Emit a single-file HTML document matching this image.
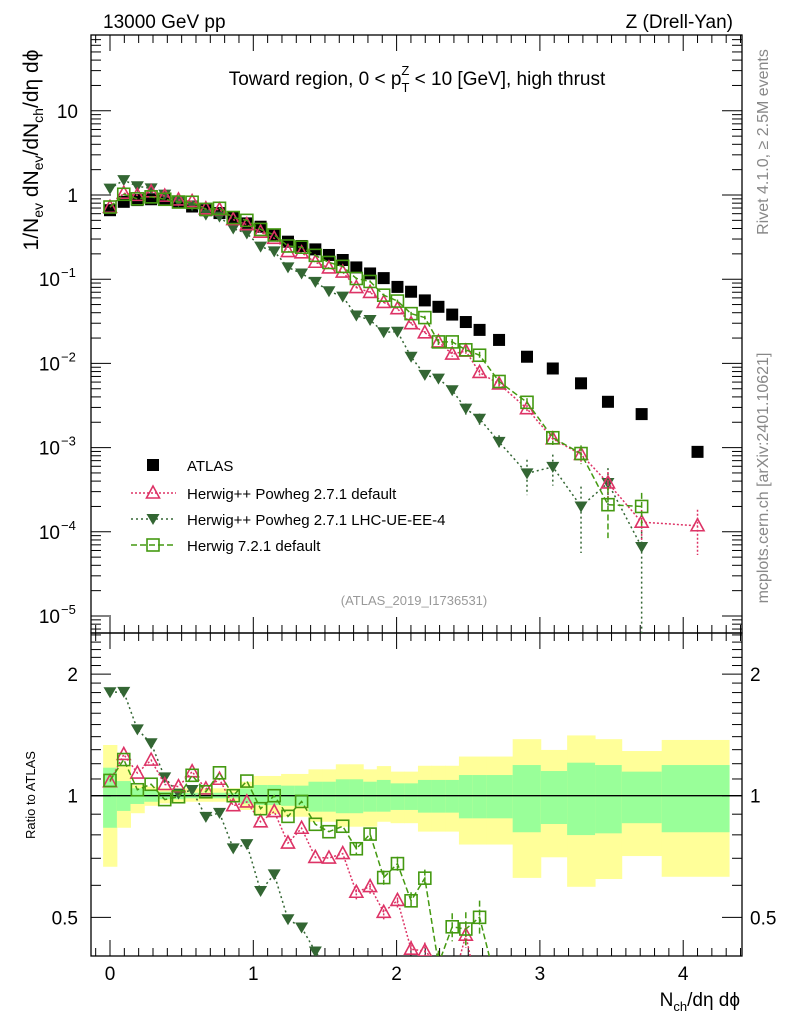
<!DOCTYPE html>
<html><head><meta charset="utf-8">
<style>
html,body{margin:0;padding:0;background:#fff;width:786px;height:1024px;overflow:hidden;}
svg{display:block;font-family:"Liberation Sans","DejaVu Sans",sans-serif;}
</style></head>
<body>
<svg id="chart" width="786" height="1024" viewBox="0 0 786 1024" xmlns="http://www.w3.org/2000/svg">
<text x="103" y="28" font-size="19">13000 GeV pp</text>
<text x="733" y="28" font-size="19" text-anchor="end">Z (Drell-Yan)</text>
<text x="417" y="85" font-size="19" text-anchor="middle">Toward region, 0 &lt; p<tspan font-size="13" dy="7">T</tspan><tspan font-size="13" dx="-8" dy="-17">Z</tspan><tspan dy="10"> &lt; 10 [GeV], high thrust</tspan></text>
<text x="414" y="605" font-size="13" fill="#999" text-anchor="middle">(ATLAS_2019_I1736531)</text>
<text transform="translate(768,142) rotate(-90)" font-size="16" fill="#888" text-anchor="middle">Rivet 4.1.0, ≥ 2.5M events</text>
<text transform="translate(768,478) rotate(-90)" font-size="16" fill="#888" text-anchor="middle">mcplots.cern.ch [arXiv:2401.10621]</text>
<text transform="translate(38,150) rotate(-90)" font-size="21" text-anchor="middle">1/N<tspan font-size="14" dy="5">ev</tspan><tspan dy="-5"> dN</tspan><tspan font-size="14" dy="5">ev</tspan><tspan dy="-5">/dN</tspan><tspan font-size="14" dy="5">ch</tspan><tspan dy="-5">/dη dϕ</tspan></text>
<text transform="translate(35,795) rotate(-90)" font-size="13" text-anchor="middle">Ratio to ATLAS</text>
<text x="740" y="1006" font-size="19" text-anchor="end">N<tspan font-size="13" dy="5">ch</tspan><tspan dy="-5">/dη dϕ</tspan></text>
<g id="bands"></g>
<g id="axes"></g>
<g id="marks"></g>
<g id="legend"></g>
</svg>
<script>
const xVals = [0,0.096,0.191,0.287,0.382,0.478,0.573,0.669,0.764,0.860,0.955,1.051,1.146,1.242,1.337,1.433,1.528,1.624,1.719,1.815,1.910,2.006,2.101,2.197,2.292,2.388,2.483,2.579,2.715,2.91,3.09,3.287,3.475,3.71,4.10];
const binEdges = [-0.048,0.048,0.143,0.239,0.334,0.430,0.525,0.621,0.716,0.812,0.907,1.003,1.098,1.194,1.289,1.385,1.480,1.576,1.671,1.767,1.862,1.958,2.053,2.149,2.244,2.340,2.435,2.531,2.626,2.81,3.006,3.19,3.385,3.571,3.85,4.32];
const atlas = [0.66,0.83,0.87,0.89,0.91,0.83,0.73,0.66,0.61,0.54,0.46,0.42,0.335,0.279,0.248,0.226,0.194,0.169,0.138,0.117,0.103,0.081,0.071,0.056,0.047,0.038,0.031,0.025,0.019,0.012,0.0087,0.0058,0.0035,0.0025,0.00089];
const pinkVals = [0.715,1.05,0.99,1.09,0.97,0.874,0.837,0.686,0.67,0.51,0.444,0.362,0.306,0.213,0.206,0.159,0.136,0.1215,0.0796,0.0697,0.053,0.0446,0.0296,0.0231,0.018,0.0129,0.014,0.0078,0.0057,0.0029,0.00127,0.00083,0.00038,0.00013,0.000118];
const pinkErr = [0,0,0,0,0,0,0,0,0,0,0,0,0,0,0,0,0,0,0.04,0.04,0.04,0.04,0.05,0.05,0.07,0.07,0.07,0.08,0.1,0.1,0.15,0.2,0.35,0.4,0.55];
const darkVals = [1.19,1.50,1.27,1.20,1.01,0.84,0.754,0.585,0.553,0.40,0.349,0.244,0.214,0.138,0.117,0.093,0.072,0.062,0.037,0.0328,0.0234,0.0238,0.012,0.0073,0.0066,0.0048,0.0029,0.0022,0.00117,0.000495,0.00059,0.0002,0.00038,0.000066,null];
const darkErr = [0,0,0,0,0,0,0,0,0,0,0,0,0,0,0,0,0.05,0.05,0.05,0.05,0.05,0.05,0.12,0.12,0.12,0.12,0.15,0.15,0.2,0.45,0.4,0.72,0.5,1.0,0];
const greenVals = [0.72,1.02,0.90,0.95,0.89,0.825,0.82,0.675,0.695,0.54,0.50,0.39,0.335,0.248,0.24,0.192,0.158,0.142,0.102,0.094,0.0646,0.055,0.039,0.035,0.018,0.018,0.0145,0.0125,0.0061,0.00345,0.00131,0.00085,0.00021,0.0002,null];
const greenErr = [0,0,0,0,0,0,0,0,0,0,0,0,0,0,0,0,0,0,0.03,0.03,0.04,0.04,0.05,0.05,0.08,0.08,0.1,0.1,0.1,0.12,0.18,0.25,0.6,0.45,0];
const yellowHi = [1.335,1.191,1.063,1.053,1.043,1.043,1.043,1.043,1.043,1.043,1.083,1.119,1.119,1.132,1.132,1.162,1.162,1.196,1.196,1.162,1.184,1.147,1.147,1.186,1.186,1.186,1.25,1.25,1.25,1.38,1.298,1.41,1.38,1.29,1.374];
const yellowLo = [0.667,0.833,0.905,0.944,0.957,0.957,0.966,0.966,0.966,0.966,0.922,0.901,0.901,0.887,0.887,0.862,0.862,0.838,0.838,0.838,0.862,0.855,0.855,0.815,0.815,0.815,0.757,0.757,0.757,0.626,0.704,0.595,0.622,0.709,0.630];
const greenHi = [1.173,1.087,1.043,1.033,1.023,1.023,1.017,1.017,1.017,1.017,1.043,1.063,1.063,1.059,1.059,1.083,1.083,1.098,1.098,1.083,1.094,1.073,1.073,1.094,1.094,1.094,1.125,1.125,1.125,1.191,1.151,1.207,1.191,1.147,1.191];
const greenLo = [0.833,0.917,0.954,0.966,0.980,0.980,0.985,0.985,0.985,0.985,0.957,0.948,0.948,0.944,0.944,0.913,0.913,0.905,0.905,0.913,0.913,0.922,0.922,0.908,0.908,0.908,0.879,0.879,0.879,0.812,0.851,0.799,0.807,0.855,0.812];
const mainTicks = ["10","1","10","10","10","10","10"];
const mainTickVals = [10,1,0.1,0.01,0.001,0.0001,0.00001];
const mainTickExp = ["","","−1","−2","−3","−4","−5"];
const xTickVals = [0,1,2,3,4];
const ratioTickVals = [2,1,0.5];

const NS="http://www.w3.org/2000/svg";
const L=91,R=742,MT=35,MB=633,RT=633,RB=956;
const X0=110,XS=143.3;
function xp(v){return X0+XS*v;}
function yMain(v){return 195-84.2*Math.log10(v);}
function yRat(v){return 795.7-404*Math.log10(v);}
function mk(tag,attrs,parent){const e=document.createElementNS(NS,tag);for(const k in attrs)e.setAttribute(k,attrs[k]);parent.appendChild(e);return e;}
const bandsG=document.getElementById('bands'),axesG=document.getElementById('axes'),marksG=document.getElementById('marks'),legG=document.getElementById('legend');

const defs=mk('defs',{},document.getElementById('chart'));
const c1=mk('clipPath',{id:'cm'},defs);mk('rect',{x:L,y:MT,width:R-L,height:MB-MT},c1);
const c2=mk('clipPath',{id:'cr'},defs);mk('rect',{x:L,y:RT,width:R-L,height:RB-RT},c2);
bandsG.setAttribute('clip-path','url(#cr)');

for(let i=0;i<atlas.length;i++){
  const x1=xp(binEdges[i]),x2=xp(binEdges[i+1]);
  const yb=mk('rect',{x:x1,y:yRat(yellowHi[i]),width:x2-x1+0.5,height:yRat(yellowLo[i])-yRat(yellowHi[i]),fill:'#ffff99'},bandsG);
  
  
  const gb=mk('rect',{x:x1,y:yRat(greenHi[i]),width:x2-x1+0.5,height:yRat(greenLo[i])-yRat(greenHi[i]),fill:'#99ff99'},bandsG);
  
  
}
mk('line',{x1:L,x2:R,y1:yRat(1),y2:yRat(1),stroke:'#000','stroke-width':1.3},bandsG);

mk('rect',{x:L,y:MT,width:R-L,height:MB-MT,fill:'none',stroke:'#000','stroke-width':1.3},axesG);
mk('rect',{x:L,y:RT,width:R-L,height:RB-RT,fill:'none',stroke:'#000','stroke-width':1.3},axesG);
function xTicks(top,bot){
  for(let t=-0.1;t<=4.41;t+=0.1){
    const v=Math.round(t*10)/10;const px=xp(v);if(px<L||px>R)continue;
    const major=Math.abs(v-Math.round(v))<1e-6;const len=major?16:8;
    mk('line',{x1:px,x2:px,y1:top,y2:top+len,stroke:'#000'},axesG);
    mk('line',{x1:px,x2:px,y1:bot,y2:bot-len,stroke:'#000'},axesG);
  }
}
xTicks(MT,MB);xTicks(RT,RB);
xTickVals.forEach(v=>{const t=mk('text',{x:xp(v),y:980,'font-size':19,'text-anchor':'middle'},axesG);t.textContent=v;

});
for(let e=-6;e<=1;e++){for(let m=1;m<10;m++){const v=m*Math.pow(10,e);const py=yMain(v);if(py<MT||py>MB)continue;
  const len=m===1?20:10;
  mk('line',{x1:L,x2:L+len,y1:py,y2:py,stroke:'#000'},axesG);
  mk('line',{x1:R,x2:R-len,y1:py,y2:py,stroke:'#000'},axesG);}}
mainTickVals.forEach((v,i)=>{
  const t=mk('text',{x:mainTickExp[i]?60:78,y:yMain(v)+7,'font-size':19,'text-anchor':'end'},axesG);
  t.textContent=mainTicks[i];
  
  
  if(mainTickExp[i]){const s=mk('text',{x:61,y:yMain(v)-2,'font-size':13},axesG);s.textContent=mainTickExp[i];
  
  }
});
[0.5,0.6,0.7,0.8,0.9,1,1.1,1.2,1.3,1.4,1.5,1.6,1.7,1.8,1.9,2,2.1,2.2,2.3,2.4,2.5].forEach(v=>{
  const py=yRat(v);if(py<RT||py>RB)return;const major=(v===0.5||v===1||v===2);const len=major?20:10;
  mk('line',{x1:L,x2:L+len,y1:py,y2:py,stroke:'#000'},axesG);
  mk('line',{x1:R,x2:R-len,y1:py,y2:py,stroke:'#000'},axesG);
});
ratioTickVals.forEach(v=>{
  const a=mk('text',{x:78,y:yRat(v)+7,'font-size':19,'text-anchor':'end'},axesG);a.textContent=v;
  
  
  const b=mk('text',{x:750,y:yRat(v)+7,'font-size':19},axesG);b.textContent=v;
  
  
});

function marker(g,type,x,y,col){
  if(type==='sq'){mk('rect',{x:x-6,y:y-6,width:12,height:12,fill:'#000'},g);}
  else if(type==='osq'){mk('rect',{x:x-6,y:y-6,width:12,height:12,fill:'none',stroke:col,'stroke-width':1.6},g);}
  else if(type==='otri'){mk('polygon',{points:`${x},${y-7} ${x-6.5},${y+5} ${x+6.5},${y+5}`,fill:'none',stroke:col,'stroke-width':1.6},g);}
  else if(type==='dtri'){mk('polygon',{points:`${x},${y+6} ${x-6.5},${y-5} ${x+6.5},${y-5}`,fill:col},g);}
}
const mainG=mk('g',{'clip-path':'url(#cm)'},marksG);
const ratG=mk('g',{'clip-path':'url(#cr)'},marksG);
function series(vals,errs,type,col,dash,name){
  const gm=mk('g',{},mainG);
  const gr=mk('g',{},ratG);
  let pm=[],pr=[];
  vals.forEach((v,i)=>{if(v==null)return;
    pm.push(xp(xVals[i])+','+yMain(v));pr.push(xp(xVals[i])+','+yRat(v/atlas[i]));});
  mk('polyline',{points:pm.join(' '),fill:'none',stroke:col,'stroke-width':1.5,'stroke-dasharray':dash},gm);
  mk('polyline',{points:pr.join(' '),fill:'none',stroke:col,'stroke-width':1.5,'stroke-dasharray':dash},gr);
  vals.forEach((v,i)=>{if(v==null)return;const x=xp(xVals[i]);const e=errs[i];
    if(e>0){const hi=v*(1+e),lo=e>=1?1e-7:v*(1-e);
      mk('line',{x1:x,x2:x,y1:yMain(hi),y2:yMain(lo),stroke:col,'stroke-width':1.5,'stroke-dasharray':dash},gm);
      mk('line',{x1:x,x2:x,y1:yRat(hi/atlas[i]),y2:yRat(lo/atlas[i]),stroke:col,'stroke-width':1.5,'stroke-dasharray':dash},gr);}
    marker(gm,type,x,yMain(v),col);marker(gr,type,x,yRat(v/atlas[i]),col);});
}
const ag=mk('g',{},mainG);
atlas.forEach((v,i)=>marker(ag,'sq',xp(xVals[i]),yMain(v),'#000'));
series(darkVals,darkErr,'dtri','#336633','2,3','herwig-powheg-lhc-ue-ee-4');
series(pinkVals,pinkErr,'otri','#dd3366','2,2','herwig-powheg-default');
series(greenVals,greenErr,'osq','#449911','6,3','herwig-7-2-1-default');

const leg=[['sq','#000','','ATLAS',465],['otri','#dd3366','2,2','Herwig++ Powheg 2.7.1 default',493],['dtri','#336633','2,3','Herwig++ Powheg 2.7.1 LHC-UE-EE-4',519],['osq','#449911','6,3','Herwig 7.2.1 default',545]];
leg.forEach(l=>{const g=mk('g',{},legG);
  
  
  if(l[2])mk('line',{x1:131,x2:176,y1:l[4],y2:l[4],stroke:l[1],'stroke-width':1.5,'stroke-dasharray':l[2]},g);
  marker(g,l[0],153,l[4],l[1]);
  const t=mk('text',{x:187,y:l[4]+6,'font-size':15},g);t.textContent=l[3];});
</script>
</body></html>
